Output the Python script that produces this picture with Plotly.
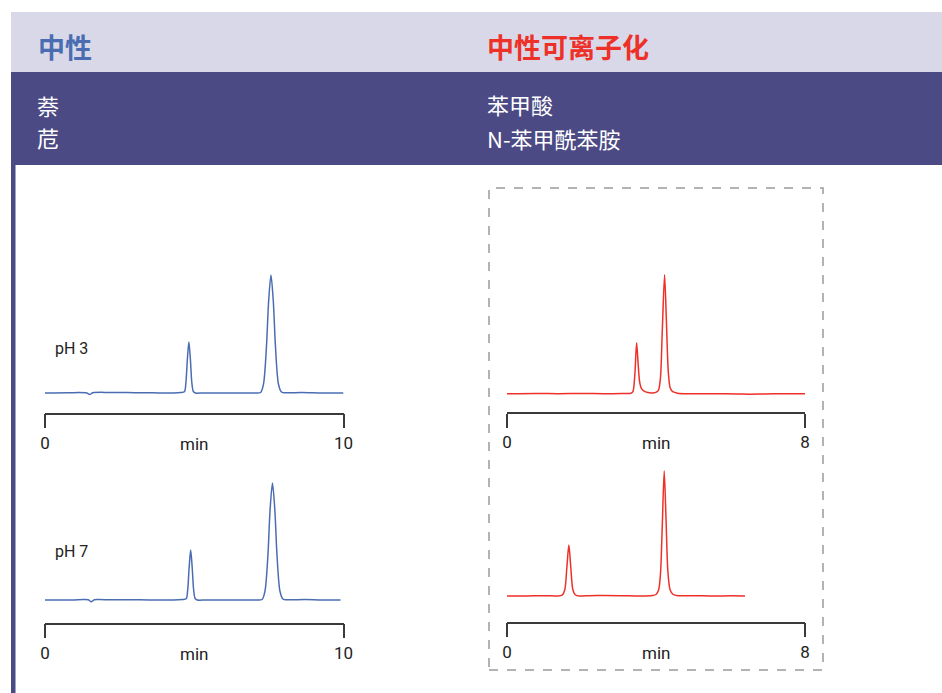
import plotly.graph_objects as go

# ---------------- data ----------------
# Neutral compounds, pH 3 (time in min, signal in arbitrary units)
neu_ph3_t = [0.0, 0.8, 1.4, 1.5, 1.6, 2.1, 2.5, 3.0, 3.6, 4.3,
             4.55, 4.67, 4.72, 4.77, 4.82, 4.87, 4.92, 4.97, 5.04, 5.3,
             6.2, 7.0, 7.22, 7.32, 7.42, 7.49, 7.57, 7.65, 7.72, 7.82,
             7.92, 8.02, 8.6, 9.3, 10.0]
neu_ph3_y = [0, 0.3, 0, -1.5, 0.2, 0.6, 0.5, 0.3, 0.2, 0,
             0.4, 1.2, 10, 34, 51, 34, 10, 1.5, 0, 0,
             0, 0, 0.5, 9, 47, 91, 118, 91, 47, 9,
             1, 0.3, 0.5, 0, 0]

# Neutral compounds, pH 7
neu_ph7_t = [0.0, 0.9, 1.3, 1.45, 1.55, 1.65, 1.8, 2.2, 2.8, 3.5,
             4.3, 4.6, 4.73, 4.78, 4.83, 4.88, 4.93, 4.98, 5.03, 5.1,
             5.4, 6.4, 7.05, 7.27, 7.37, 7.47, 7.54, 7.62, 7.70, 7.77,
             7.87, 7.97, 8.07, 8.7, 9.3, 9.9]
neu_ph7_y = [0, 0, 0.6, 0.3, -1.8, 0.2, 0.4, 0.3, 0.3, 0,
             0, 0.5, 1.2, 10, 33, 50, 33, 10, 1.5, 0,
             0, 0, 0, 0.5, 9, 46, 90, 117, 90, 46,
             9, 1, 0.3, 0.4, 0, 0]

# Neutral + ionizable compounds, pH 3
ion_ph3_t = [0.0, 0.8, 1.4, 2.0, 2.6, 3.1, 3.33, 3.38, 3.43, 3.48,
             3.52, 3.56, 3.61, 3.68, 3.78, 3.88, 3.95, 4.01, 4.07, 4.12,
             4.17, 4.23, 4.28, 4.33, 4.38, 4.45, 4.58, 4.8, 5.5, 6.2,
             6.5, 6.9, 7.4, 8.0]
ion_ph3_y = [0, 0.3, 0, 0.2, 0, 0.2, 0.5, 2, 18, 51,
             30, 12, 5, 2.5, 1.2, 0.8, 1.0, 1.5, 4, 16,
             64, 119, 72, 22, 6, 2, 0.5, 0, 0, -0.3,
             -0.5, -0.3, 0, 0]

# Neutral + ionizable compounds, pH 7
ion_ph7_t = [0.0, 0.5, 1.0, 1.35, 1.48, 1.55, 1.61, 1.66, 1.71, 1.77,
             1.84, 1.95, 2.2, 2.6, 3.1, 3.6, 3.9, 4.0, 4.07, 4.12,
             4.17, 4.22, 4.27, 4.32, 4.38, 4.46, 4.6, 5.0, 5.6, 6.0,
             6.39]
ion_ph7_y = [0, 0, 0.3, 0, 0.8, 6, 30, 51, 30, 6,
             1, 0, 0.3, 0.5, 0.3, 0, 0.5, 1.5, 6, 22,
             72, 125, 76, 24, 6, 1.5, 0.3, 0.3, 0, 0.2,
             0]

left_ticks = [0, 10]
right_ticks = [0, 8]
header_left = "中性"
header_right = "中性可离子化"
compounds_left = ["萘", "苊"]
compounds_right = ["苯甲酸", "N-苯甲酰苯胺"]
ph_labels = ["pH 3", "pH 7"]

# ---------------- layout helpers ----------------
W, H = 942, 693
def px(x):
    return x / W
def py(y):
    return 1 - y / H

BLUE = "#4a6db2"
RED = "#ee3128"
AXC = "#3a3a3a"
NUM_FONT = "Liberation Sans Narrow, Roboto, Liberation Sans, sans-serif"
CJK_FONT = "Noto Sans CJK SC"

fig = go.Figure()

panels = [
    # (t, y, color, xaxis id, x-domain px, ruler px, baseline px, top px, xmax, ticks)
    (neu_ph3_t, neu_ph3_y, BLUE, 1, (45, 343.5), 412.5, 393, 250, 10, left_ticks),
    (neu_ph7_t, neu_ph7_y, BLUE, 2, (45, 343.5), 622.5, 600, 460, 10, left_ticks),
    (ion_ph3_t, ion_ph3_y, RED, 3, (507, 805), 412.0, 393.7, 250, 8, right_ticks),
    (ion_ph7_t, ion_ph7_y, RED, 4, (507, 805), 621.5, 596, 455, 8, right_ticks),
]

layout_axes = {}
for t, y, color, i, (xa, xb), ruler, base, top, xmax, ticks in panels:
    sfx = "" if i == 1 else str(i)
    fig.add_trace(go.Scatter(
        x=t, y=y, mode="lines",
        line=dict(color=color, width=1.5, shape="spline", smoothing=0.8),
        xaxis="x" + sfx, yaxis="y" + sfx, hoverinfo="skip", showlegend=False))
    layout_axes["xaxis" + sfx] = dict(
        domain=[px(xa), px(xb)], range=[0, xmax], anchor="y" + sfx,
        showline=True, linecolor=AXC, linewidth=1.5, automargin=False,
        ticks="outside", ticklen=14, tickwidth=1.5, tickcolor=AXC,
        tickvals=ticks, ticktext=[str(v) for v in ticks],
        tickfont=dict(family=NUM_FONT, size=17, color="#222222"),
        showgrid=False, zeroline=False, fixedrange=True)
    layout_axes["yaxis" + sfx] = dict(
        domain=[py(ruler), py(top)], range=[-(ruler - base), base - top],
        anchor="x" + sfx, visible=False, showgrid=False, zeroline=False,
        automargin=False, fixedrange=True)
    fig.add_annotation(
        x=(xa + xb) / 2 / W, y=py(ruler + 31), xref="paper", yref="paper",
        text="min", showarrow=False, xanchor="center", yanchor="middle",
        font=dict(family=NUM_FONT, size=17, color="#222222"))

shapes = [
    dict(type="rect", xref="paper", yref="paper", x0=px(11), x1=1, y0=py(72), y1=py(12),
         fillcolor="#d9d8e8", line=dict(width=0), layer="below"),
    dict(type="rect", xref="paper", yref="paper", x0=px(11), x1=1, y0=py(165), y1=py(72),
         fillcolor="#4b4a84", line=dict(width=0), layer="below"),
    dict(type="rect", xref="paper", yref="paper", x0=px(11), x1=px(15.5), y0=0, y1=py(165),
         fillcolor="#4b4a84", line=dict(width=0), layer="below"),
    dict(type="rect", xref="paper", yref="paper", x0=px(489), x1=px(823), y0=py(670), y1=py(188),
         fillcolor="rgba(0,0,0,0)", line=dict(color="#9a9a9a", width=1.5, dash="dash")),
]

annots = [
    (36, 47, header_left, BLUE, 27, True),
    (485, 47, header_right, RED, 27, True),
    (35, 105, compounds_left[0], "white", 22, False),
    (35, 137, compounds_left[1], "white", 22, False),
    (485, 104, compounds_right[0], "white", 22, False),
    (485, 138, compounds_right[1], "white", 22, False),
]
for x, y, txt, col, size, bold in annots:
    fig.add_annotation(
        x=px(x), y=py(y), xref="paper", yref="paper", showarrow=False,
        text=f"<b>{txt}</b>" if bold else txt, xanchor="left", yanchor="middle",
        font=dict(family=CJK_FONT, size=size, color=col))

for yy, txt in zip([348, 551], ph_labels):
    fig.add_annotation(
        x=px(53), y=py(yy), xref="paper", yref="paper", showarrow=False,
        text=txt, xanchor="left", yanchor="middle",
        font=dict(family=NUM_FONT, size=16, color="#222222"))

fig.update_layout(
    template="none",
    width=W, height=H, autosize=False,
    margin=dict(l=0, r=0, t=0, b=0, pad=0, autoexpand=False),
    paper_bgcolor="white", plot_bgcolor="rgba(0,0,0,0)",
    shapes=shapes, showlegend=False, **layout_axes)

fig.write_html(
    "out.html",
    config={"displayModeBar": False, "responsive": False},
    post_script="document.body.style.margin='0';document.body.style.overflow='hidden';",
)
